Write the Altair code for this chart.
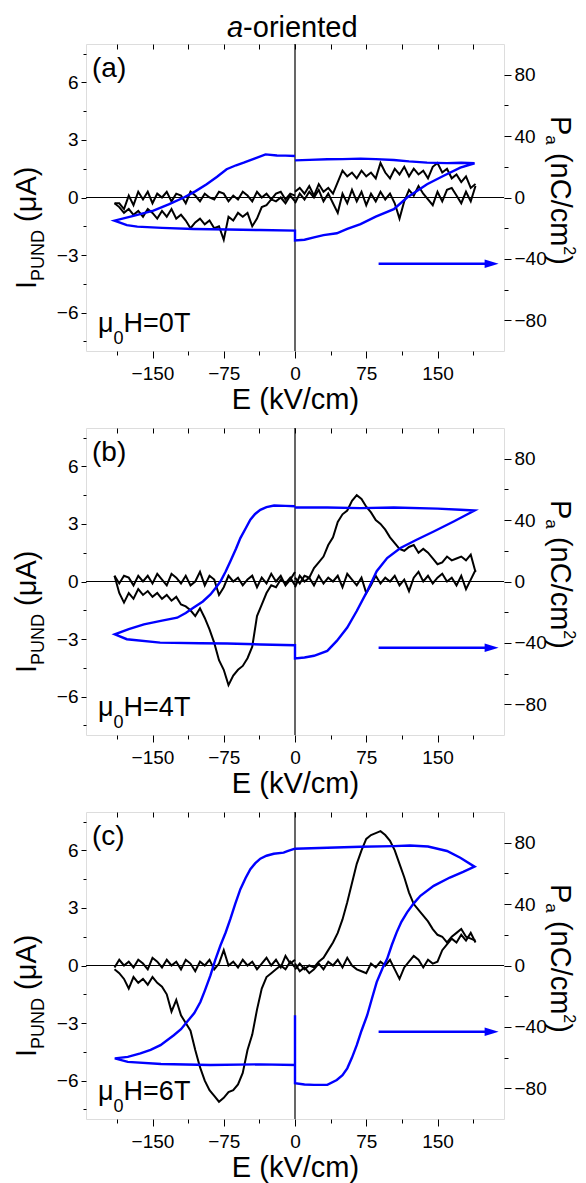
import altair as alt
import pandas as pd

FONT = "Liberation Sans"
BLUE = "#0000ff"

# ---------------- data ----------------
E_POS = [0, 5, 10, 15, 20, 25, 30, 35, 40, 45, 50, 55, 60, 65, 70, 75, 80, 85, 90, 95,
         100, 105, 110, 115, 120, 125, 130, 135, 140, 145, 150, 155, 160, 165, 170, 175,
         180, 185, 190]
E_NEG = [0, -5, -10, -15, -20, -25, -30, -35, -40, -45, -50, -55, -60, -65, -70, -75, -80,
         -85, -90, -95, -100, -105, -110, -115, -120, -125, -130, -135, -140, -145, -150,
         -155, -160, -165, -170, -175, -180, -185, -190]

# panel (a)  mu0H = 0 T
A_NEG_FLAT = [0.1, 0.2, -0.1, 0.3, 0.2, -0.1, 0.2, 0.0, 0.3, -0.2, 0.1, 0.3, -0.1, 0.1, -0.2,
              0.2, 0.3, -0.1, 0.0, 0.2, -0.2, 0.1, 0.3, -0.3, 0.1, 0.2, -0.2, 0.3, 0.0, 0.2,
              -0.3, 0.3, -0.1, 0.3, -0.4, 0.1, -0.6, -0.3, -0.3]
A_NEG_SW = [-0.2, 0.1, -0.3, 0.0, -0.2, -0.1, -0.4, -0.5, -1.1, -1.5, -0.8, -1.0, -0.8, -1.2,
            -1.0, -2.2, -1.5, -1.6, -1.2, -1.4, -1.1, -1.3, -1.6, -1.2, -0.9, -1.1, -0.6,
            -1.0, -0.7, -1.1, -0.8, -0.6, -1.0, -0.7, -0.9, -0.6, -0.8, -0.5, -0.3]
A_POS_SW = [0.3, 0.5, 0.2, 0.6, 0.1, 0.7, 0.3, 0.5, 0.2, 0.8, 1.4, 1.1, 1.3, 1.0, 1.4, 1.1,
            1.3, 1.0, 1.8, 1.3, 1.0, 1.5, 1.2, 1.6, 1.1, 1.5, 1.2, 1.4, 1.0, 1.6, 1.8, 1.3,
            1.5, 1.0, 1.2, 0.8, 1.1, 0.5, 0.7]
A_POS_FLAT = [-0.3, 0.2, -0.1, 0.3, 0.0, 0.4, -0.2, 0.2, -0.3, -0.8, 0.2, -0.3, 0.4, -0.2,
              0.3, -0.4, 0.2, -0.2, 0.3, -0.1, 0.2, -0.3, -1.1, -0.2, 0.4, 0.1, 0.6, 0.2,
              -0.1, -0.4, 0.3, -0.2, 0.4, 0.5, 0.1, -0.3, 0.3, -0.2, 0.6]
A_LOOP_E = [0, -10, -19, -31, -42, -54, -62, -72, -82, -93, -105, -117, -133, -149, -170, -190,
            -177, -166, -140, -107, -70, -37, 0,
            0, 10, 20, 30, 44, 55, 69, 85, 104, 118, 139, 156, 174, 189,
            175, 160, 139, 120, 104, 85, 69, 50, 34, 15, 0]
A_LOOP_P = [27.0, 27.3, 27.4, 28.1, 25.5, 22.7, 21.0, 18.4, 13.5, 8.6, 4.0, 0.0, -4.5, -8.6,
            -12.0, -15.1,
            -18.0, -19.0, -19.8, -20.5, -20.8, -21.2, -21.6,
            -28.0, -27.5, -26.0, -24.5, -23.3, -20.5, -17.3, -12.5, -7.6, 0.0, 8.6, 14.0,
            19.4, 22.3,
            22.6, 22.4, 22.7, 23.5, 24.4, 25.0, 25.3, 25.0, 24.9, 24.5, 24.2]

# panel (b)  mu0H = 4 T
B_NEG_FLAT = [0.5, 0.1, -0.2, 0.3, 0.0, 0.4, -0.1, 0.2, -0.3, 0.3, 0.1, -0.2, 0.2, 0.0, 0.3,
              -0.3, -0.7, 0.1, 0.3, -0.2, 0.5, 0.0, -0.2, 0.3, -0.1, 0.2, 0.4, -0.2, 0.1, 0.4,
              -0.1, 0.3, 0.0, 0.3, -0.2, 0.2, 0.3, -0.1, 0.3]
B_NEG_SW = [-0.2, 0.2, -0.1, 0.1, -0.3, -0.2, -0.6, -1.2, -1.8, -3.4, -4.0, -4.4, -4.6, -4.9,
            -5.4, -4.6, -4.1, -3.2, -2.5, -1.9, -1.4, -1.8, -1.5, -1.3, -1.2, -0.8, -1.0,
            -0.7, -0.9, -0.6, -0.8, -0.5, -0.7, -0.4, -0.9, -0.6, -1.1, -0.6, 0.3]
B_POS_SW = [0.2, -0.1, 0.3, 0.2, 0.7, 1.0, 1.3, 1.9, 2.3, 3.1, 3.5, 3.7, 4.2, 4.5, 4.3, 3.9,
            3.6, 3.2, 3.0, 2.7, 2.3, 2.0, 1.7, 1.6, 1.8, 1.9, 1.5, 1.7, 1.5, 1.2, 0.9, 1.0,
            1.3, 1.1, 1.2, 1.3, 1.1, 1.4, 0.5]
B_POS_FLAT = [-0.3, 0.3, 0.0, 0.2, -0.2, 0.3, -0.1, 0.2, 0.0, 0.3, -0.3, 0.4, 0.1, -0.2, 0.2,
              -0.6, -0.2, 0.3, -0.1, 0.2, 0.0, 0.3, -0.2, 0.1, -0.5, 0.2, 0.5, 0.0, 0.3, -0.1,
              0.2, 0.4, 0.0, 0.2, -0.2, 0.3, -0.4, 0.1, 0.6]
B_LOOP_E = [0, -10, -22, -30, -36.5, -42, -47, -52, -57.5, -62, -68, -73, -78.5, -84, -89, -97,
            -106.6, -115, -124, -140, -159, -175, -189.7,
            -177, -142, -100, -71.5, -36, 0,
            0, 10, 20, 34, 44, 55, 65, 76, 86, 97, 111, 128, 146, 167, 189,
            174, 150, 104, 69, 34, 0]
B_LOOP_P = [49.0, 49.3, 49.5, 48.5, 46.7, 44.0, 40.2, 34.5, 28.3, 21.5, 13.2, 6.5, 0.0, -4.5,
            -8.4, -13.0, -17.0, -20.5, -23.6, -25.5, -27.9, -31.0, -34.4,
            -37.6, -39.8, -40.2, -40.4, -41.0, -41.5,
            -50.1, -49.5, -48.4, -45.2, -38.7, -30.0, -19.2, -6.3, 6.7, 15.3, 21.8, 27.2,
            32.6, 39.1, 46.2,
            46.7, 47.5, 48.2, 47.8, 48.2, 48.2]

# panel (c)  mu0H = 6 T
C_NEG_FLAT = [0.3, 0.1, 0.5, -0.1, 0.3, 0.0, 0.4, 0.1, -0.2, 0.2, 0.0, 0.3, -0.1, 0.2, 0.0,
              0.8, 0.1, -0.2, 0.3, 0.0, 0.2, -0.3, 0.1, 0.3, -0.2, 0.2, 0.0, 0.3, -0.1, 0.2,
              0.4, -0.2, 0.1, 0.3, -0.1, 0.2, 0.0, 0.3, -0.1]
C_NEG_SW = [-0.1, 0.2, -0.2, 0.0, -0.2, -0.4, -0.6, -1.2, -2.3, -3.6, -4.4, -5.6, -6.2, -6.5,
            -6.6, -6.9, -7.1, -6.8, -6.5, -6.0, -5.3, -4.4, -3.4, -3.0, -2.6, -1.8, -2.4,
            -1.5, -1.1, -0.9, -0.6, -1.0, -0.7, -0.9, -0.6, -1.2, -0.7, -0.4, -0.2]
C_POS_SW = [-0.2, 0.1, -0.2, 0.0, -0.1, 0.2, 0.4, 0.8, 1.2, 1.7, 2.4, 3.3, 4.3, 5.3, 6.0, 6.6,
            6.8, 6.9, 7.0, 6.8, 6.5, 6.0, 5.3, 4.6, 3.8, 3.2, 2.9, 2.6, 2.3, 1.9, 1.6, 1.5,
            1.2, 1.5, 1.7, 1.9, 1.5, 1.4, 1.3]
C_POS_FLAT = [0.1, -0.3, -0.1, -0.4, -0.2, 0.1, -0.2, 0.2, 0.0, 0.3, -0.1, 0.4, 0.0, -0.2,
              -0.3, -0.4, 0.1, -0.1, 0.2, 0.0, 0.3, -0.2, -0.7, -0.1, 0.2, 0.5, 0.3, -0.1,
              0.3, 0.1, 0.2, 0.8, 1.1, 1.4, 1.2, 1.6, 1.3, 1.7, 1.2]
C_LOOP_E = [0, -8, -12, -22.4, -30, -36.5, -42, -47, -52, -57.5, -63, -68, -73, -78.5, -84,
            -89, -95, -99.6, -106, -113.6, -120, -127.6, -141.6, -152, -162.7, -176, -189.7,
            -176, -141, -89, -37, 0,
            0, 0, 10, 20, 34, 44, 50, 55, 60, 65, 70, 76, 81, 86, 92, 97, 102, 107, 112, 118,
            125, 132, 146, 163, 177, 189,
            174, 160, 140, 121, 104, 69, 34, 0]
C_LOOP_P = [76.1, 74.5, 73.5, 72.8, 71.5, 69.6, 66.5, 62.7, 57.0, 49.7, 40.0, 30.3, 21.5,
            13.0, 3.5, -6.5, -16.5, -23.8, -31.0, -36.7, -41.5, -45.4, -51.9, -55.0, -57.3,
            -59.5, -60.5,
            -62.8, -64.2, -64.8, -64.4, -64.8,
            -32.4, -76.7, -77.5, -77.8, -77.8, -74.6, -71.5, -67.0, -60.0, -51.9, -42.5,
            -32.4, -21.5, -10.8, -2.0, 4.3, 13.5, 21.6, 28.5, 34.6, 40.5, 45.4, 51.9, 57.3,
            61.0, 64.4,
            70.2, 74.6, 77.5, 78.2, 77.8, 77.4, 76.7, 76.1]

ARROW_E = [88, 203]      # arrow shaft (kV/cm), pointing to the right axis
ARROW_HEAD_E = 207
ARROW_P = -43.2

PANEL_LABELS = ["(a)", "(b)", "(c)"]
FIELD_VALUES = ["0T", "4T", "6T"]

X_TICKS = [-187.5, -150, -112.5, -75, -37.5, 0, 37.5, 75, 112.5, 150, 187.5]
I_TICKS = [-7.5, -6, -4.5, -3, -1.5, 0, 1.5, 3, 4.5, 6, 7.5]
P_TICKS = [-80, -60, -40, -20, 0, 20, 40, 60, 80]

W, H = 418, 307

XS = alt.Scale(domain=[-220, 220], nice=False, zero=False)
IS = alt.Scale(domain=[-8, 8], nice=False, zero=False)
PS = alt.Scale(domain=[-100, 100], nice=False, zero=False)

ONE = pd.DataFrame({"d": [0]})


def black_frame(neg_flat, neg_sw, pos_flat, pos_sw):
    rows = []
    for name, es, vals in [("neg_flat", E_NEG, neg_flat), ("neg_sw", E_NEG, neg_sw),
                           ("pos_flat", E_POS, pos_flat), ("pos_sw", E_POS, pos_sw)]:
        for k, (e, v) in enumerate(zip(es, vals)):
            rows.append({"trace": name, "k": k, "E": e, "I": v})
    return pd.DataFrame(rows)


def loop_frame(es, ps):
    return pd.DataFrame({"k": list(range(len(es))), "E": es, "P": ps})


def txt(t, x, y, fs, angle=0, style="normal"):
    return alt.Chart(ONE).mark_text(
        align="left", baseline="alphabetic", font=FONT, fontSize=fs, angle=angle,
        fontStyle=style, color="black"
    ).encode(x=alt.value(x), y=alt.value(y), text=alt.value(t))


def axis_common(**kw):
    base = dict(labelFont=FONT, labelFontSize=19, labelColor="black", tickColor="black",
                tickWidth=1, domain=False, grid=False, labelOverlap=False,
                titleFont=FONT, titleColor="black", titleFontWeight="normal")
    base.update(kw)
    return alt.Axis(**base)


def panel(idx, black_df, loop_df, with_title):
    bottom_axis = axis_common(
        orient="bottom", values=X_TICKS, title="E (kV/cm)", titleFontSize=29,
        titlePadding=2, labelPadding=6,
        labelExpr="datum.value % 75 === 0 ? datum.label : ''",
        tickSize={"condition": {"test": "datum.value % 75 === 0", "value": 7}, "value": 4})
    top_axis = axis_common(orient="top", values=X_TICKS, title=None, labels=False,
                           tickSize=5, offset=-5)
    left_axis = axis_common(
        orient="left", values=I_TICKS, title=None, labelPadding=3,
        labelExpr="datum.value % 3 === 0 ? datum.label : ''",
        tickSize={"condition": {"test": "datum.value % 3 === 0", "value": 5}, "value": 3})
    right_axis = axis_common(
        orient="right", values=P_TICKS, title=None, labelPadding=3,
        labelExpr="datum.value % 40 === 0 ? datum.label : ''",
        tickSize={"condition": {"test": "datum.value % 40 === 0", "value": 7}, "value": 4})

    black = alt.Chart(black_df).mark_line(color="black", strokeWidth=2).encode(
        x=alt.X("E:Q", scale=XS, axis=bottom_axis),
        y=alt.Y("I:Q", scale=IS, axis=left_axis),
        detail="trace:N", order="k:Q")
    top = alt.Chart(black_df).mark_line(opacity=0).encode(
        x=alt.X("E:Q", scale=XS, axis=top_axis),
        y=alt.Y("I:Q", scale=IS, axis=None),
        detail="trace:N", order="k:Q")
    hline = alt.Chart(ONE).mark_rule(color="black", strokeWidth=1.2).encode(
        y=alt.Y(datum=0, scale=IS, axis=None))
    vline = alt.Chart(ONE).mark_rule(color="black", strokeWidth=1.2).encode(
        x=alt.X(datum=0, scale=XS, axis=None))
    loop = alt.Chart(loop_df).mark_line(color=BLUE, strokeWidth=2.4).encode(
        x=alt.X("E:Q", scale=XS, axis=None),
        y=alt.Y("P:Q", scale=PS, axis=right_axis),
        order="k:Q")
    shaft = alt.Chart(ONE).mark_rule(color=BLUE, strokeWidth=2.4).encode(
        x=alt.X(datum=ARROW_E[0], scale=XS, axis=None),
        x2=alt.X2(datum=ARROW_E[1]),
        y=alt.Y(datum=ARROW_P, scale=PS, axis=None))
    head = alt.Chart(ONE).mark_point(
        shape="M-1,-0.6L1,0L-1,0.6Z", filled=True, color=BLUE, opacity=1, size=196
    ).encode(
        x=alt.X(datum=ARROW_HEAD_E, scale=XS, axis=None),
        y=alt.Y(datum=ARROW_P, scale=PS, axis=None))

    texts = [
        txt(PANEL_LABELS[idx], 6, 33, 28),
        txt("\u03bc", 12, 288, 27),
        txt("0", 27.6, 300, 18),
        txt("H=" + FIELD_VALUES[idx], 37.6, 288, 27),
        # left axis title  I_PUND (uA)
        txt("I", -50, 245, 29, angle=270),
        txt("PUND", -42, 236.9, 18, angle=270),
        txt("(\u03bcA)", -50, 177.9, 29, angle=270),
        # right axis title  P_a (nC/cm^2)
        txt("P", W + 47, 72, 29, angle=90),
        txt("a", W + 42, 91.3, 17, angle=90),
        txt("(nC/cm", W + 47, 108.9, 29, angle=90),
        txt("2", W + 60, 202.3, 16, angle=90),
        txt(")", W + 47, 211.2, 29, angle=90),
    ]
    if with_title:
        texts.append(txt("a", 141, -7, 29, style="italic"))
        texts.append(txt("-oriented", 157.1, -7, 29))

    layers = [hline, vline, black, top, loop, shaft, head] + texts
    return alt.layer(*layers).resolve_scale(y="independent").resolve_axis(
        x="independent", y="independent").properties(width=W, height=H)


pa = panel(0, black_frame(A_NEG_FLAT, A_NEG_SW, A_POS_FLAT, A_POS_SW),
           loop_frame(A_LOOP_E, A_LOOP_P), True)
pb = panel(1, black_frame(B_NEG_FLAT, B_NEG_SW, B_POS_FLAT, B_POS_SW),
           loop_frame(B_LOOP_E, B_LOOP_P), False)
pc = panel(2, black_frame(C_NEG_FLAT, C_NEG_SW, C_POS_FLAT, C_POS_SW),
           loop_frame(C_LOOP_E, C_LOOP_P), False)

chart = alt.vconcat(pa, pb, pc, spacing=11).properties(
    padding={"left": 12, "top": 13, "right": 0, "bottom": 0},
    background="white",
).configure_view(stroke="black", strokeWidth=1.3).configure(font=FONT)

chart.save("out.html", embed_options={"renderer": "svg", "actions": False})
